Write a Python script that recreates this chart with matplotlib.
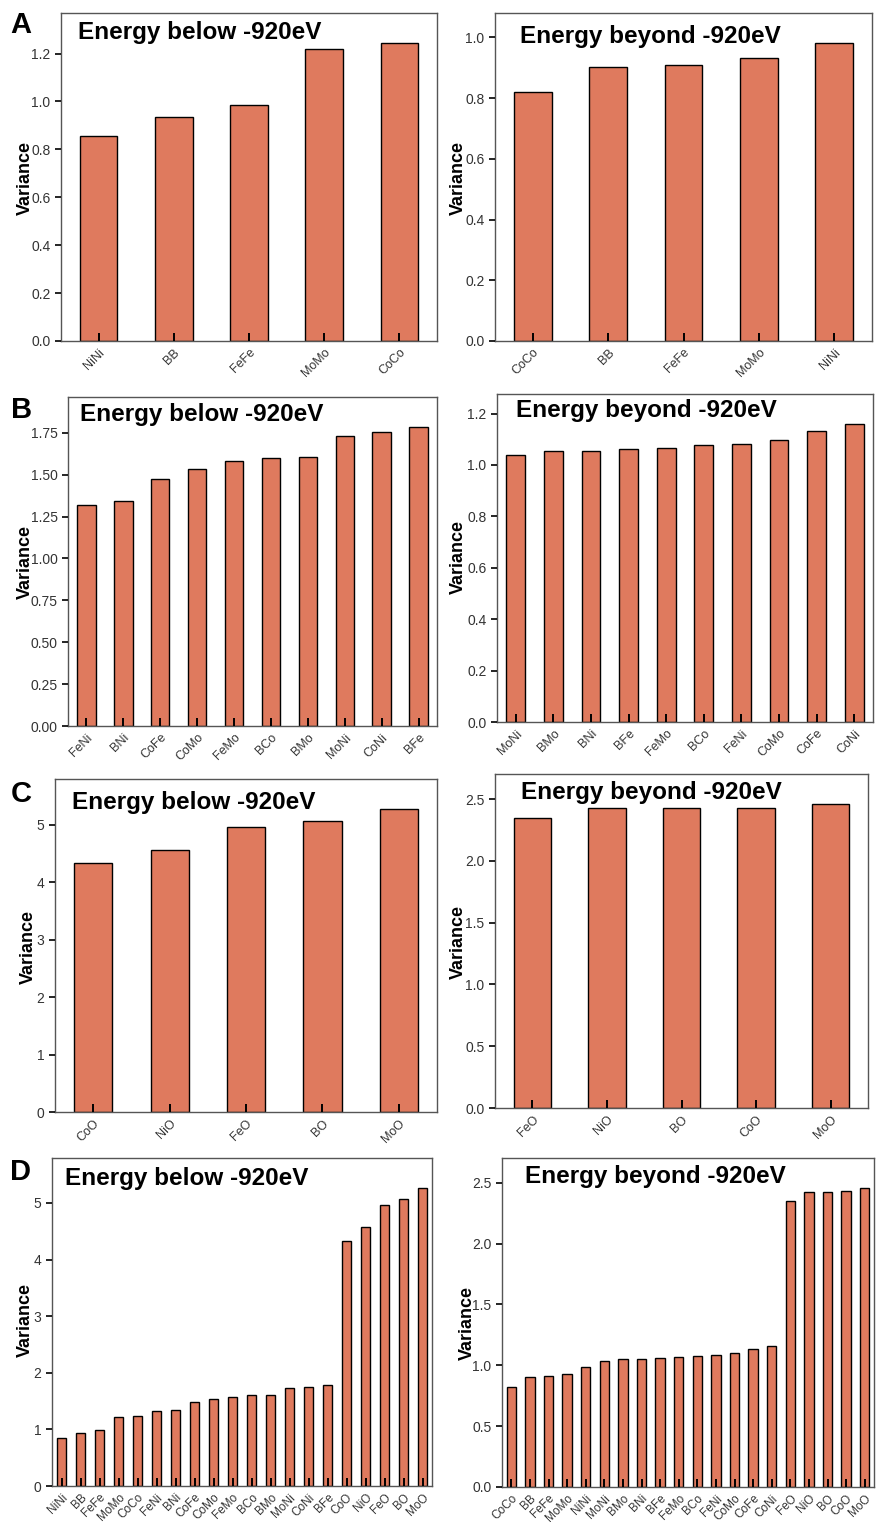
import numpy as np
import matplotlib
matplotlib.use("Agg")
import matplotlib.pyplot as plt
from matplotlib.ticker import MultipleLocator, FormatStrFormatter

plt.rcParams['font.family'] = ['Liberation Sans', 'DejaVu Sans']

# data
a_below_labels = ["NiNi", "BB", "FeFe", "MoMo", "CoCo"]
a_below_vals = [0.855, 0.936, 0.986, 1.218, 1.245]
a_beyond_labels = ["CoCo", "BB", "FeFe", "MoMo", "NiNi"]
a_beyond_vals = [0.819, 0.903, 0.908, 0.931, 0.982]

b_below_labels = ["FeNi", "BNi", "CoFe", "CoMo", "FeMo", "BCo", "BMo", "MoNi", "CoNi", "BFe"]
b_below_vals = [1.320, 1.342, 1.475, 1.535, 1.579, 1.601, 1.607, 1.728, 1.757, 1.785]
b_beyond_labels = ["MoNi", "BMo", "BNi", "BFe", "FeMo", "BCo", "FeNi", "CoMo", "CoFe", "CoNi"]
b_beyond_vals = [1.038, 1.055, 1.055, 1.062, 1.067, 1.077, 1.082, 1.098, 1.132, 1.160]

c_below_labels = ["CoO", "NiO", "FeO", "BO", "MoO"]
c_below_vals = [4.333, 4.566, 4.958, 5.063, 5.266]
c_beyond_labels = ["FeO", "NiO", "BO", "CoO", "MoO"]
c_beyond_vals = [2.347, 2.425, 2.427, 2.428, 2.457]

# panel D = everything together
d_below_labels = a_below_labels + b_below_labels + c_below_labels
d_below_vals = a_below_vals + b_below_vals + c_below_vals
d_beyond_labels = a_beyond_labels + b_beyond_labels + c_beyond_labels
d_beyond_vals = a_beyond_vals + b_beyond_vals + c_beyond_vals

W, H = 876, 1522
fig = plt.figure(figsize=(W / 100, H / 100), dpi=100)

bar_color = "#DF7A5E"


def make_panel(box, labels, vals, title, title_xy, ylab_xy, step, fmt, xfont=9):
    l, t, r, b = box
    ax = fig.add_axes([l / W, 1 - b / H, (r - l) / W, (b - t) / H])
    x = np.arange(len(vals))
    ax.bar(x, vals, width=0.5, color=bar_color, edgecolor="black", linewidth=1.0, zorder=1)
    ax.set_axisbelow(False)
    ax.set_xlim(-0.5, len(vals) - 0.5)
    ax.set_ylim(0, max(vals) * 1.1)
    ax.set_xticks(x)
    ax.set_xticklabels(labels, rotation=45, ha="right", rotation_mode="anchor",
                       fontsize=xfont, color="#333333")
    ax.yaxis.set_major_locator(MultipleLocator(step))
    ax.yaxis.set_major_formatter(FormatStrFormatter(fmt))
    ax.tick_params(axis="x", direction="in", length=6, width=1.4, color="black", pad=4)
    ax.tick_params(axis="y", direction="out", length=4, width=1.2, color="black",
                   labelsize=10, labelcolor="#333333")
    for sp in ax.spines.values():
        sp.set_color("#555555")
        sp.set_linewidth(1.0)
    fig.text(title_xy[0] / W, 1 - title_xy[1] / H, title, fontsize=17.5, fontweight="bold",
             ha="left", va="center")
    fig.text(ylab_xy[0] / W, 1 - ylab_xy[1] / H, "Variance", fontsize=13, fontweight="bold",
             rotation=90, ha="center", va="center")
    return ax


make_panel((61, 13, 437, 341), a_below_labels, a_below_vals, "Energy below -920eV",
           (78, 32), (25, 178), 0.2, "%.1f")
make_panel((495, 13, 872, 341), a_beyond_labels, a_beyond_vals, "Energy beyond -920eV",
           (520, 37), (458, 178), 0.2, "%.1f")
make_panel((68, 397, 437, 726), b_below_labels, b_below_vals, "Energy below -920eV",
           (80, 415), (25, 562), 0.25, "%.2f")
make_panel((497, 394, 873, 722), b_beyond_labels, b_beyond_vals, "Energy beyond -920eV",
           (516, 410), (458, 557), 0.2, "%.1f")
make_panel((55, 779, 437, 1112), c_below_labels, c_below_vals, "Energy below -920eV",
           (72, 802), (28, 947), 1, "%d")
make_panel((495, 774, 868, 1108), c_beyond_labels, c_beyond_vals, "Energy beyond -920eV",
           (521, 793), (458, 942), 0.5, "%.1f")
make_panel((52, 1158, 432, 1486), d_below_labels, d_below_vals, "Energy below -920eV",
           (65, 1178), (25, 1320), 1, "%d", xfont=8.5)
make_panel((502, 1158, 874, 1487), d_beyond_labels, d_beyond_vals, "Energy beyond -920eV",
           (525, 1177), (467, 1323), 0.5, "%.1f", xfont=8.5)

# panel letters
for letter, (px, py) in zip("ABCD", [(10, 25), (11, 410), (11, 794), (10, 1172)]):
    fig.text(px / W, 1 - py / H, letter, fontsize=21, fontweight="bold", ha="left", va="center")

fig.savefig("out.png", dpi=100)
